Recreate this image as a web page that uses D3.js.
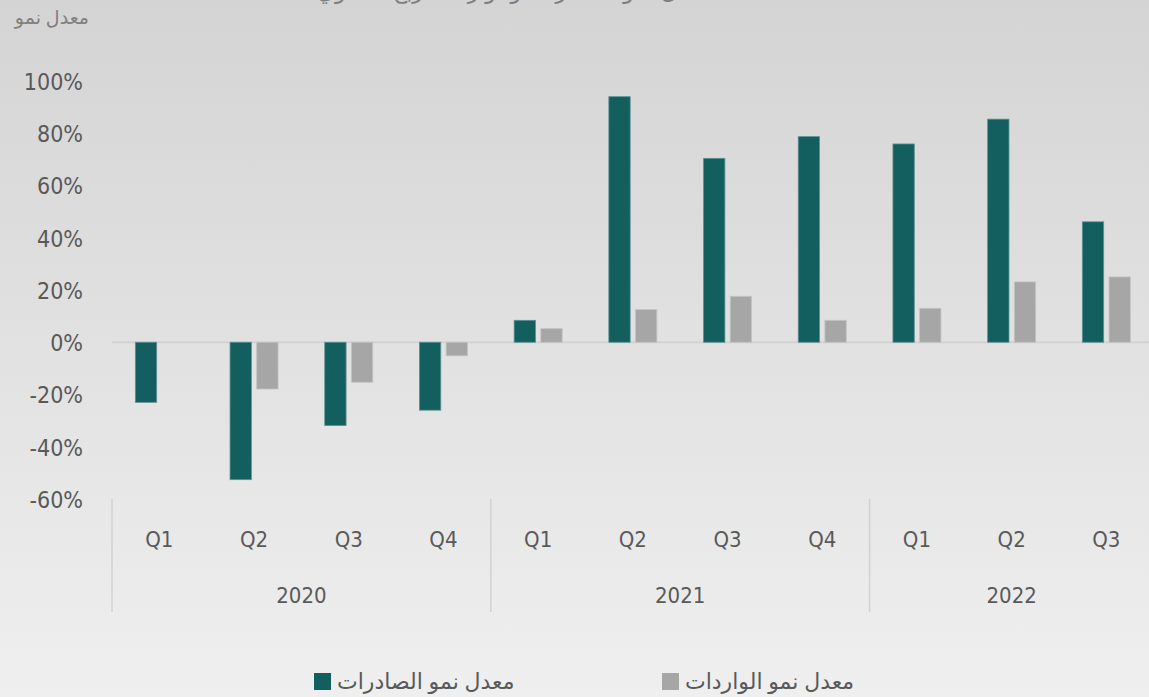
<!DOCTYPE html>
<html>
<head>
<meta charset="utf-8">
<script src="https://cdn.jsdelivr.net/npm/d3@7"></script>
<style>
  html, body { margin: 0; padding: 0; }
  body { width: 1149px; height: 697px; overflow: hidden; }
  text { font-family: "Liberation Sans Narrow", "DejaVu Sans Condensed", sans-serif; }
  .ar { font-family: "Noto Sans", "DejaVu Sans", sans-serif; }
</style>
</head>
<body>
<script>
// data
var years = ["2020", "2021", "2022"];
var quarters = ["Q1", "Q2", "Q3", "Q4", "Q1", "Q2", "Q3", "Q4", "Q1", "Q2", "Q3"];
var quarterYear = ["2020", "2020", "2020", "2020", "2021", "2021", "2021", "2021", "2022", "2022", "2022"];
var exportsGrowth = [-23, -52.6, -31.9, -26, 8.4, 94, 70.4, 78.7, 75.9, 85.4, 46.1];
var importsGrowth = [null, -17.9, -15.3, -5.2, 5.2, 12.5, 17.6, 8.4, 13, 23.1, 25];
var yTicks = [-60, -40, -20, 0, 20, 40, 60, 80, 100];
var seriesNames = ["معدل نمو الصادرات", "معدل نمو الواردات"];
var seriesColors = ["#135e5f", "#a6a6a6"];

var W = 1149, H = 697;

var svg = d3.select("body")
	.append("svg")
	.attr("width", W)
	.attr("height", H);

// background gradient
var grad = svg.append("defs").append("linearGradient")
	.attr("id", "bg").attr("x1", 0).attr("y1", 0).attr("x2", 0).attr("y2", 1);
grad.append("stop").attr("offset", "0%").attr("stop-color", "#d5d4d5");
grad.append("stop").attr("offset", "100%").attr("stop-color", "#efefef");
svg.append("rect").attr("width", W).attr("height", H).attr("fill", "url(#bg)");

// title (cut at the top edge, as in the source picture)
svg.append("text")
	.attr("class", "ar")
	.attr("x", 515).attr("y", -2)
	.attr("text-anchor", "middle")
	.attr("direction", "rtl")
	.attr("font-size", 23)
	.attr("fill", "#7f7f7f")
	.text("معدل نمو الصادرات والواردات ربع السنوي");

// y unit label
svg.append("text")
	.attr("class", "ar")
	.attr("x", 89).attr("y", 24)
	.attr("text-anchor", "start")
	.attr("direction", "rtl")
	.attr("font-size", 19)
	.attr("fill", "#7f7f7f")
	.text("معدل نمو");

var idx = d3.range(quarters.length);

var x0 = d3.scaleBand()
	.domain(idx)
	.range([112, 112 + 94.7 * quarters.length])
	.padding(0);

var x1 = d3.scaleBand()
	.domain([0, 1])
	.range([0, x0.bandwidth()])
	.paddingInner(0.2)
	.paddingOuter(0.875);

var y = d3.scaleLinear()
	.domain([-60, 100])
	.range([499, 81]);

// y axis labels
var yAxis = svg.append("g")
	.attr("transform", "translate(83,0)")
	.call(d3.axisLeft(y).tickValues(yTicks).tickSize(0).tickPadding(0)
		.tickFormat(function(d) { return d + "%"; }));
yAxis.select(".domain").remove();
yAxis.selectAll("text")
	.attr("font-size", 23)
	.attr("fill", "#595959")
	.attr("dy", "0.36em");

// zero line
svg.append("line")
	.attr("x1", 112).attr("x2", W)
	.attr("y1", y(0)).attr("y2", y(0))
	.attr("stroke", "#d2d2d2")
	.attr("stroke-width", 2);

// bars
var series = [exportsGrowth, importsGrowth];
series.forEach(function(vals, s) {
	svg.append("g").selectAll("rect")
		.data(idx.filter(function(i) { return vals[i] != null; }))
		.enter().append("rect")
		.attr("x", function(i) { return x0(i) + x1(s); })
		.attr("width", x1.bandwidth())
		.attr("y", function(i) { return y(Math.max(0, vals[i])); })
		.attr("height", function(i) { return Math.abs(y(vals[i]) - y(0)); })
		.attr("fill", seriesColors[s])
		.attr("stroke", s == 0 ? "#5f9091" : "#c4c4c4")
		.attr("stroke-width", 0.8);
});

// quarter labels
var xAxis = svg.append("g")
	.attr("transform", "translate(0,531)")
	.call(d3.axisBottom(x0).tickSize(0).tickPadding(0)
		.tickFormat(function(i) { return quarters[i]; }));
xAxis.select(".domain").remove();
xAxis.selectAll("text")
	.attr("font-size", 22)
	.attr("fill", "#595959")
	.attr("dy", "0.71em");

// year groups
years.forEach(function(yr) {
	var members = idx.filter(function(i) { return quarterYear[i] == yr; });
	var left = x0(members[0]);
	var right = x0(members[members.length - 1]) + x0.bandwidth();
	svg.append("line")
		.attr("x1", left).attr("x2", left)
		.attr("y1", 499).attr("y2", 612)
		.attr("stroke", "#d2d2d2")
		.attr("stroke-width", 1.5);
	svg.append("text")
		.attr("x", (left + right) / 2)
		.attr("y", 603)
		.attr("text-anchor", "middle")
		.attr("font-size", 22)
		.attr("fill", "#595959")
		.text(yr);
});

// legend
var legendX = [314, 662];
seriesNames.forEach(function(name, s) {
	svg.append("rect")
		.attr("x", legendX[s]).attr("y", 673)
		.attr("width", 17).attr("height", 17)
		.attr("fill", seriesColors[s]);
	svg.append("text")
		.attr("class", "ar")
		.attr("x", legendX[s] + 23).attr("y", 689)
		.attr("text-anchor", "end")
		.attr("direction", "rtl")
		.attr("font-size", 22)
		.attr("fill", "#595959")
		.text(name);
});
</script>
</body>
</html>
